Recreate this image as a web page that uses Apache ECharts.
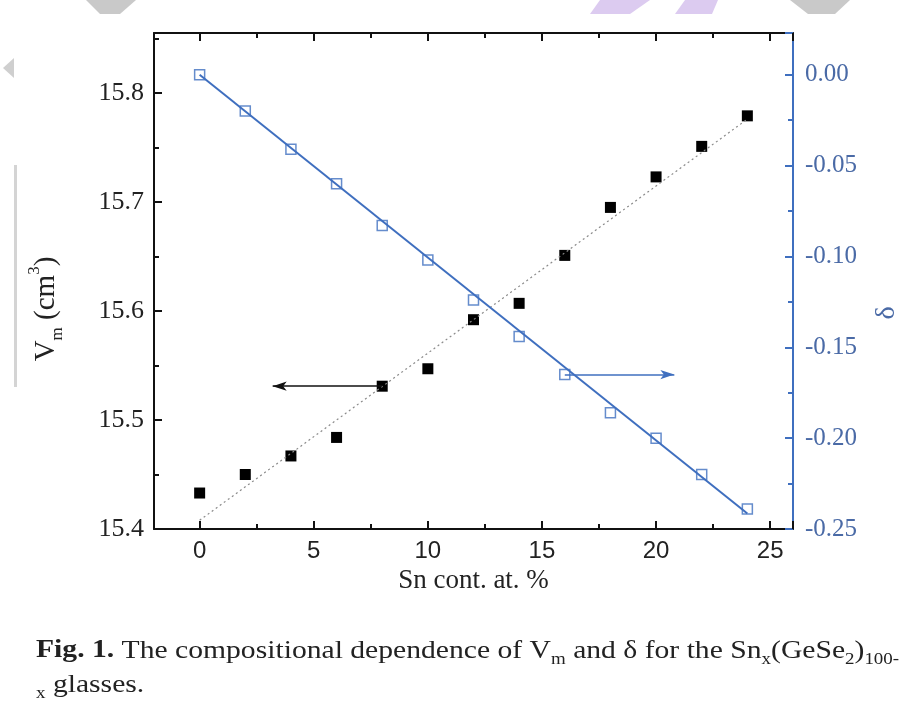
<!DOCTYPE html>
<html>
<head>
<meta charset="utf-8">
<script src="https://cdn.jsdelivr.net/npm/echarts@6/dist/echarts.min.js"></script>
<style>
html,body{margin:0;padding:0;background:#fff;}
#chart{width:914px;height:713px;}
</style>
</head>
<body>
<div id="chart"></div>
<script>
// ---- data ----
var snContent = [0, 2, 4, 6, 8, 10, 12, 14, 16, 18, 20, 22, 24];
var vmValues = [15.433, 15.450, 15.467, 15.484, 15.531, 15.547, 15.592, 15.607, 15.651, 15.695, 15.723, 15.751, 15.779];
var deltaValues = [0.000, -0.020, -0.041, -0.060, -0.083, -0.102, -0.124, -0.144, -0.165, -0.186, -0.200, -0.220, -0.239];
var vmFit = [[0, 15.408], [24, 15.776]];
var deltaFit = [[0, 0.000], [24, -0.2415]];
var vmArrow = [[8, 15.531], [3.2, 15.531]];
var deltaArrow = [[16, -0.165], [20.8, -0.165]];
var xTickLabels = [0, 5, 10, 15, 20, 25];
var leftTickLabels = ['15.4', '15.5', '15.6', '15.7', '15.8'];
var rightTickLabels = ['-0.25', '-0.20', '-0.15', '-0.10', '-0.05', '0.00'];

var BLUE = '#3f6fbf';
var BLUE_TXT = '#4a6aa6';
var SERIF = '"Liberation Serif", serif';
var SANS = '"Liberation Sans", sans-serif';

function pairs(xs, ys) { return xs.map(function (x, i) { return [x, ys[i]]; }); }

var chart = echarts.init(document.getElementById('chart'), null, { renderer: 'canvas' });

var xCommon = {
  type: 'value', min: -2, max: 26,
  axisLine: { show: true, onZero: false, lineStyle: { color: '#111', width: 2 } },
  axisTick: { show: true, inside: true, length: 8, lineStyle: { color: '#111', width: 2 } },
  minorTick: { show: true, splitNumber: 2, length: 5, lineStyle: { color: '#111', width: 2 } },
  splitLine: { show: false }
};

var option = {
  animation: false,
  backgroundColor: '#ffffff',
  grid: { left: 154, right: 121, top: 33, bottom: 184, containLabel: false },
  xAxis: [
    Object.assign({}, xCommon, {
      position: 'bottom',
      name: 'Sn cont. at. %', nameLocation: 'middle', nameGap: 36,
      nameTextStyle: { fontFamily: SERIF, fontSize: 27, color: '#222' },
      axisLabel: {
        show: true, margin: 10, fontFamily: SANS, fontSize: 24, color: '#222',
        showMinLabel: false, showMaxLabel: false,
        formatter: function (v) { return xTickLabels.indexOf(v) >= 0 ? String(v) : ''; }
      }
    }),
    Object.assign({}, xCommon, {
      position: 'top',
      axisLabel: { show: false }
    })
  ],
  yAxis: [
    {
      type: 'value', position: 'left', min: 15.4, max: 15.855, interval: 0.1,
      name: 'V{sub|m} (cm{sup|3})', nameLocation: 'middle', nameRotate: 90, nameGap: 88,
      nameTextStyle: {
        fontFamily: SERIF, fontSize: 29, color: '#222', padding: [0, 56, 0, 0],
        rich: {
          sub: { fontFamily: SERIF, fontSize: 17, color: '#222', verticalAlign: 'bottom', lineHeight: 16 },
          sup: { fontFamily: SERIF, fontSize: 17, color: '#222', verticalAlign: 'top', lineHeight: 40 }
        }
      },
      axisLine: { show: true, onZero: false, lineStyle: { color: '#111', width: 2 } },
      axisTick: { show: true, inside: true, length: 8, lineStyle: { color: '#111', width: 2 } },
      minorTick: { show: true, splitNumber: 2, length: 5, lineStyle: { color: '#111', width: 2 } },
      splitLine: { show: false },
      axisLabel: {
        margin: 10, fontFamily: SERIF, fontSize: 26, color: '#222', showMaxLabel: false,
        formatter: function (v) { var s = v.toFixed(1); return leftTickLabels.indexOf(s) >= 0 ? s : ''; }
      }
    },
    {
      type: 'value', position: 'right', min: -0.25, max: 0.023, interval: 0.05,
      name: 'δ', nameLocation: 'middle', nameRotate: 90, nameGap: 80,
      nameTextStyle: { fontFamily: SERIF, fontSize: 28, color: BLUE_TXT, padding: [0, 64, 0, 0] },
      axisLine: { show: true, onZero: false, lineStyle: { color: BLUE, width: 2 } },
      axisTick: { show: true, inside: true, length: 8, lineStyle: { color: BLUE, width: 2 } },
      minorTick: { show: true, splitNumber: 2, length: 5, lineStyle: { color: BLUE, width: 2 } },
      splitLine: { show: false },
      axisLabel: {
        margin: 12, fontFamily: SERIF, fontSize: 25, color: BLUE_TXT, showMaxLabel: false,
        formatter: function (v) { var s = (Math.abs(v) < 1e-9 ? 0 : v).toFixed(2); return rightTickLabels.indexOf(s) >= 0 ? s : ''; }
      }
    }
  ],
  series: [
    {
      name: 'Vm fit', type: 'line', xAxisIndex: 0, yAxisIndex: 0,
      data: vmFit, symbol: 'none', silent: true,
      lineStyle: { color: '#8a8a8a', width: 1.2, type: [2, 3] },
      markLine: {
        silent: true, symbol: ['none', 'arrow'], symbolSize: [7, 14],
        label: { show: false },
        lineStyle: { color: '#111', width: 1.5, type: 'solid' },
        data: [[{ coord: vmArrow[0] }, { coord: vmArrow[1] }]]
      }
    },
    {
      name: 'delta fit', type: 'line', xAxisIndex: 0, yAxisIndex: 1,
      data: deltaFit, symbol: 'none', silent: true,
      lineStyle: { color: BLUE, width: 2 },
      markLine: {
        silent: true, symbol: ['none', 'arrow'], symbolSize: [7, 14],
        label: { show: false },
        lineStyle: { color: BLUE, width: 1.5, type: 'solid' },
        data: [[{ coord: deltaArrow[0] }, { coord: deltaArrow[1] }]]
      }
    },
    {
      name: 'delta', type: 'scatter', xAxisIndex: 0, yAxisIndex: 1,
      data: pairs(snContent, deltaValues), symbol: 'rect', symbolSize: 10,
      itemStyle: { color: '#ffffff', borderColor: BLUE, borderWidth: 1.5 }
    },
    {
      name: 'Vm', type: 'scatter', xAxisIndex: 0, yAxisIndex: 0,
      data: pairs(snContent, vmValues), symbol: 'rect', symbolSize: 11,
      itemStyle: { color: '#000000', opacity: 1 }
    }
  ],
  graphic: [
    // decorative page fragments from the scanned source
    { type: 'polygon', silent: true, shape: { points: [[86, 0], [136, 0], [120, 14], [100, 14]] }, style: { fill: '#c9c9c9' } },
    { type: 'polygon', silent: true, shape: { points: [[600, 0], [650, 0], [630, 14], [590, 14]] }, style: { fill: '#dccbf0' } },
    { type: 'polygon', silent: true, shape: { points: [[685, 0], [718, 0], [712, 14], [675, 14]] }, style: { fill: '#dccbf0' } },
    { type: 'polygon', silent: true, shape: { points: [[790, 0], [850, 0], [835, 14], [808, 14]] }, style: { fill: '#c9c9c9' } },
    { type: 'polygon', silent: true, shape: { points: [[3, 68], [14, 58], [14, 78]] }, style: { fill: '#cfcfcf' } },
    { type: 'rect', silent: true, shape: { x: 14, y: 165, width: 3, height: 222 }, style: { fill: '#d4d4d4' } },
    {
      type: 'text', x: 36, y: 634, scaleX: 1.185, silent: true,
      style: {
        text: '{b|Fig. 1.} The compositional dependence of V{sub|m} and δ for the Sn{sub|x}(GeSe{sub|2}){sub|100-}\n{sub|x} glasses.',
        fontFamily: SERIF, fontSize: 25, fill: '#222', lineHeight: 34,
        rich: {
          b: { fontFamily: SERIF, fontSize: 25, fontWeight: 'bold', fill: '#222', lineHeight: 34 },
          sub: { fontFamily: SERIF, fontSize: 16, fill: '#222', verticalAlign: 'bottom', lineHeight: 26 }
        }
      }
    }
  ]
};
chart.setOption(option);
</script>
</body>
</html>
